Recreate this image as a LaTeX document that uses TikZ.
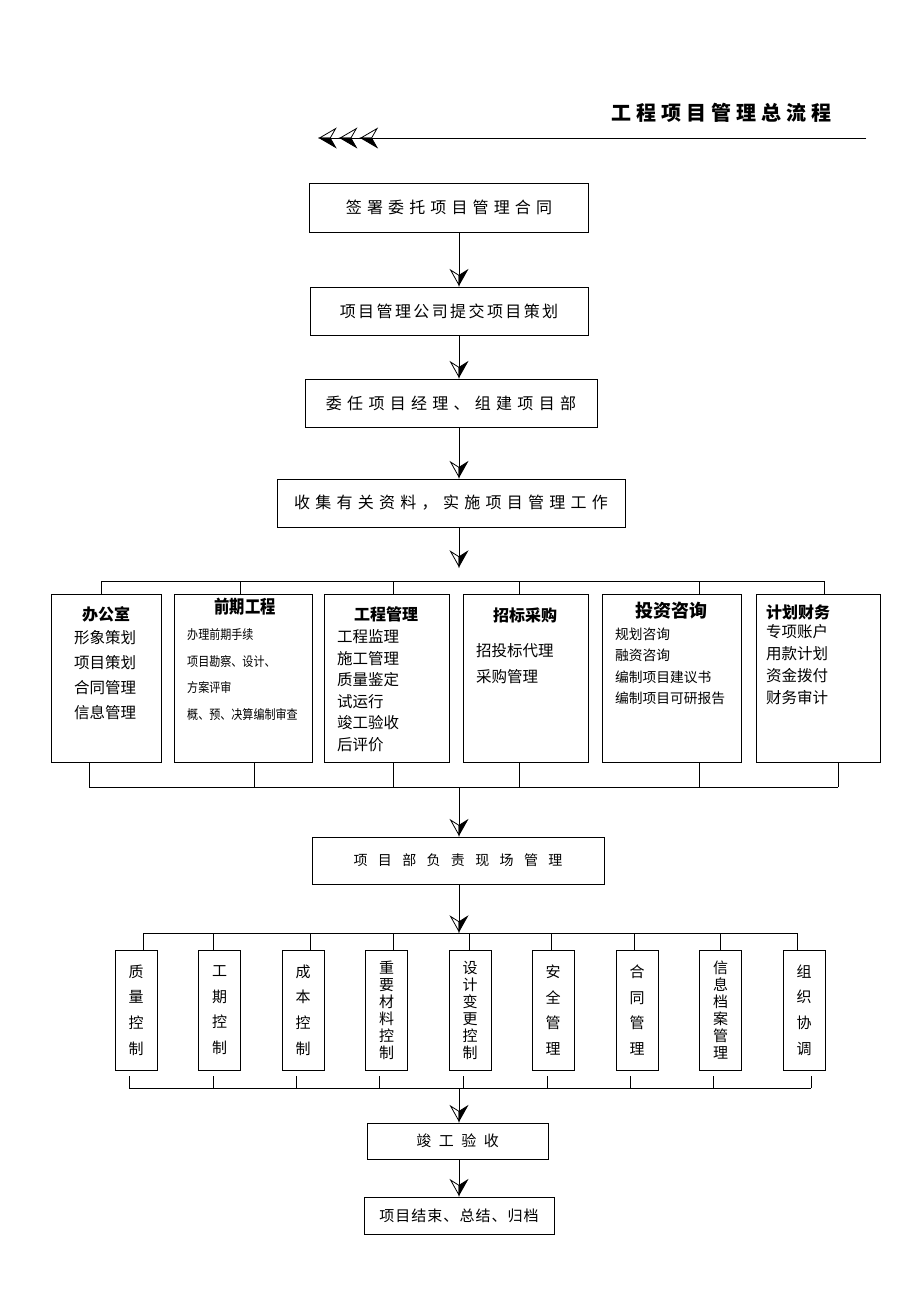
\documentclass[tikz,border=0pt]{standalone}
\usepackage{fontspec}
\setmainfont{Noto Sans CJK SC}
\usetikzlibrary{arrows.meta}
\newcommand\boxfont[2]{\fontsize{#1}{#1}\selectfont\addfontfeature{LetterSpace=#2}}
\tikzset{
  flowbox/.style={draw, line width=0.8pt, inner sep=0pt},
  bus/.style={line width=0.8pt},
  halftip/.style={line width=0.8pt, -{Stealth[harpoon,length=17pt,width=19pt,inset=6pt]},
    postaction={draw, -{Stealth[harpoon,swap,open,length=17pt,width=19pt,inset=6pt]}}},
  colhead/.style={inner sep=0pt, font=\fontsize{16}{16}\selectfont\bfseries},
  colitem/.style={anchor=west, inner sep=0pt, font=\fontsize{15.5}{15.5}\selectfont},
  vbox/.style={flowbox, minimum width=42pt, minimum height=120pt, align=center, font=\fontsize{15}{25.6}\selectfont},
  vboxtight/.style={vbox, font=\fontsize{15}{17}\selectfont},
}
\begin{document}
\begin{tikzpicture}[x=1pt,y=-1pt]
\useasboundingbox (0,0) rectangle (920,1302);
\node[font=\boxfont{20}{25}\bfseries] (title) at (721,113) {工程项目管理总流程};
\coordinate (hdR) at (866,138);
\coordinate (hdL) at (318,138);
\draw[line width=0.8pt,
  -{Stealth[harpoon,length=18pt,width=21pt,inset=6pt,sep=2pt]Stealth[harpoon,length=18pt,width=21pt,inset=6pt,sep=2pt]Stealth[harpoon,length=18pt,width=21pt,inset=6pt]},
  postaction={draw,-{Stealth[harpoon,swap,open,length=18pt,width=21pt,inset=6pt,sep=2pt]Stealth[harpoon,swap,open,length=18pt,width=21pt,inset=6pt,sep=2pt]Stealth[harpoon,swap,open,length=18pt,width=21pt,inset=6pt]}}]
  (hdR) -- (hdL);

\coordinate (axis) at (459,0);
\node[flowbox, minimum width=279pt, minimum height=49pt, font=\boxfont{16}{32}] (s1) at (449,207.5) {签署委托项目管理合同};
\node[flowbox, minimum width=278pt, minimum height=48pt, font=\boxfont{16}{15}] (s2) at (449,311) {项目管理公司提交项目策划};
\node[flowbox, minimum width=292pt, minimum height=48pt, font=\boxfont{16}{33}] (s3) at (451,403) {委任项目经理、组建项目部};
\node[flowbox, minimum width=348pt, minimum height=48pt, font=\boxfont{16}{33}] (s4) at (451,503) {收集有关资料，实施项目管理工作};
\draw[halftip] (axis |- s1.south) -- (axis |- s2.north);
\draw[halftip] (axis |- s2.south) -- (axis |- s3.north);
\draw[halftip] (axis |- s3.south) -- (axis |- s4.north);
\coordinate (gap1) at (459,568);
\draw[halftip] (axis |- s4.south) -- (gap1);

\foreach \n/\x/\w in {b1/106/110, b2/243/138, b3/386.5/125, b4/525.5/125, b5/671.5/139, b6/818/124}
  \node[flowbox, minimum width=\w pt, minimum height=168pt] (\n) at (\x,678) {};
\node[colhead] (h1) at (106,614) {办公室};
\node[colhead, font=\fontsize{18}{18}\selectfont\bfseries\addfontfeature{FakeStretch=0.85}] (h2) at (245,607) {前期工程};
\node[colhead] (h3) at (386,614) {工程管理};
\node[colhead] (h4) at (525,615) {招标采购};
\node[colhead, font=\fontsize{18}{18}\selectfont\bfseries] (h5) at (671,611) {投资咨询};
\node[colhead, anchor=west] (h6) at (766,612) {计划财务};
\foreach \t [count=\i] in {形象策划,项目策划,合同管理,信息管理}
  \node[colitem] (i1-\i) at (74,{613+25*\i}) {\t};
\foreach \t [count=\i] in {办理前期手续,项目勘察、设计、,方案评审,概、预、决算编制审查}
  \node[colitem, font=\fontsize{13}{13}\selectfont\addfontfeature{FakeStretch=0.85}] (i2-\i) at (187,{608.5+26.5*\i}) {\t};
\foreach \t [count=\i] in {工程监理,施工管理,质量鉴定,试运行,竣工验收,后评价}
  \node[colitem] (i3-\i) at (337,{615.5+21.5*\i}) {\t};
\foreach \t [count=\i] in {招投标代理,采购管理}
  \node[colitem] (i4-\i) at (476,{625+26*\i}) {\t};
\foreach \t [count=\i] in {规划咨询,融资咨询,编制项目建议书,编制项目可研报告}
  \node[colitem, font=\fontsize{13.75}{13.75}\selectfont] (i5-\i) at (615,{612.5+21.5*\i}) {\t};
\foreach \t [count=\i] in {专项账户,用款计划,资金拨付,财务审计}
  \node[colitem] (i6-\i) at (766,{610+22*\i}) {\t};

\coordinate (t0L) at (101,581);
\coordinate (t0R) at (824,581);
\draw[bus] (t0L) -- (t0R);
\foreach \n/\x in {b1/101,b2/240,b3/393,b4/519,b5/699,b6/824}
  \draw[bus] (\x,581) -- (\x,0 |- \n.north);
\coordinate (u0L) at (89,787);
\coordinate (u0R) at (838,787);
\draw[bus] (u0L) -- (u0R);
\foreach \n/\x in {b1/89,b2/254,b3/393,b4/519,b5/699,b6/838}
  \draw[bus] (\x,0 |- \n.south) -- (\x,787);

\node[flowbox, minimum width=292pt, minimum height=47pt, font=\boxfont{14}{74}] (s5) at (458,860.5) {项目部负责现场管理};
\draw[halftip] (axis |- u0L) -- (axis |- s5.north);
\coordinate (bus2) at (459,933);
\draw[halftip] (axis |- s5.south) -- (bus2);
\draw[bus] (143,933) -- (797,933);
\foreach \n/\x/\d/\s/\t in {v1/136/143/vbox/质\\量\\控\\制, v2/219.5/213/vbox/工\\期\\控\\制,
    v3/303/310/vbox/成\\本\\控\\制, v4/386.5/393/vboxtight/重\\要\\材\\料\\控\\制,
    v5/470/469/vboxtight/设\\计\\变\\更\\控\\制, v6/553/551/vbox/安\\全\\管\\理,
    v7/637/634/vbox/合\\同\\管\\理, v8/720.5/720/vboxtight/信\\息\\档\\案\\管\\理,
    v9/804/797/vbox/组\\织\\协\\调}{
  \node[\s] (\n) at (\x,1010) {\t};
  \draw[bus] (\d,933) -- (\d,0 |- \n.north);
}
\foreach \x in {129,213,296,379,463,547,630,713,811}
  \draw[bus] (\x,1076) -- (\x,1088);
\coordinate (u1L) at (129,1088);
\coordinate (u1R) at (811,1088);
\draw[bus] (u1L) -- (u1R);

\node[flowbox, minimum width=181pt, minimum height=36pt, font=\boxfont{15}{50}] (s6) at (457.5,1141) {竣工验收};
\node[flowbox, minimum width=190pt, minimum height=37pt, font=\boxfont{15}{7}] (s7) at (459,1215.5) {项目结束、总结、归档};
\draw[halftip] (axis |- u1L) -- (axis |- s6.north);
\draw[halftip] (axis |- s6.south) -- (axis |- s7.north);
\end{tikzpicture}
\end{document}
